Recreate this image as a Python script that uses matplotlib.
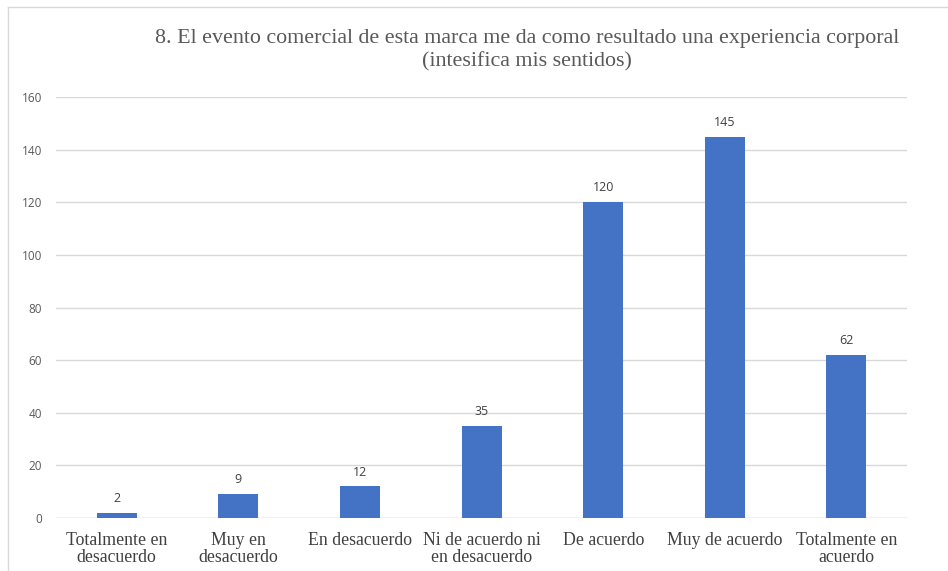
import matplotlib
matplotlib.use("Agg")
import matplotlib.pyplot as plt
from matplotlib.lines import Line2D

# data
categories = ["Totalmente en\ndesacuerdo", "Muy en\ndesacuerdo", "En desacuerdo",
              "Ni de acuerdo ni\nen desacuerdo", "De acuerdo", "Muy de acuerdo",
              "Totalmente en\nacuerdo"]
values = [2, 9, 12, 35, 120, 145, 62]
yticks = [0, 20, 40, 60, 80, 100, 120, 140, 160]
title = "8. El evento comercial de esta marca me da como resultado una experiencia corporal\n(intesifica mis sentidos)"

fig = plt.figure(figsize=(9.48, 5.71), dpi=100)
ax = fig.add_axes([0.059, 0.0928, 0.898, 0.7372])

x = range(len(categories))
ax.bar(x, values, width=0.33, color="#4472C4", zorder=3)
for i, v in zip(x, values):
    ax.text(i, v + 3, str(v), ha="center", va="bottom", fontsize=9,
            color="#404040", family="Open Sans")

ax.set_ylim(0, 160)
ax.set_xlim(-0.5, len(categories) - 0.5)
ax.set_yticks(yticks)
ax.set_yticklabels([str(t) for t in yticks], family="Open Sans", fontsize=8.5, color="#595959")
ax.set_xticks(list(x))
ax.set_xticklabels(categories, family="Liberation Serif", fontsize=12.8, color="#404040",
                   linespacing=1.0)
ax.tick_params(axis="x", length=0, pad=10)
ax.tick_params(axis="y", length=0, pad=10)
ax.grid(axis="y", color="#D9D9D9", linewidth=1, zorder=0)
for s in ax.spines.values():
    s.set_visible(False)
ax.axhline(0, color="#D9D9D9", linewidth=1, zorder=2)

fig.text(0.556, 0.95, title, ha="center", va="top", family="Liberation Serif",
         fontsize=15.8, color="#595959", linespacing=1.28)

# outer chart border (left and top edges visible)
fig.add_artist(Line2D([8 / 948, 8 / 948], [0, 1 - 7 / 571], transform=fig.transFigure,
                      color="#D9D9D9", linewidth=1))
fig.add_artist(Line2D([8 / 948, 1], [1 - 7 / 571, 1 - 7 / 571], transform=fig.transFigure,
                      color="#D9D9D9", linewidth=1))

fig.savefig("out.png", dpi=100)
